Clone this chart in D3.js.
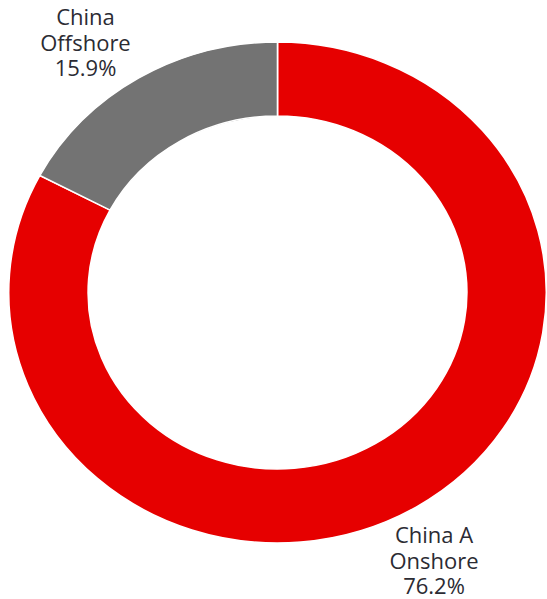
<!DOCTYPE html>
<html>
<head>
<meta charset="utf-8">
<script src="https://cdn.jsdelivr.net/npm/d3@7"></script>
<style>
  html, body { margin: 0; padding: 0; background: #ffffff; }
  svg { display: block; }
</style>
</head>
<body>
<svg id="chart" width="547" height="599"></svg>
<script>
const categories = ["China A Onshore", "China Offshore"];
const values = [76.2, 15.9];
const labelLines = [["China A", "Onshore", "76.2%"], ["China", "Offshore", "15.9%"]];
const colors = ["#E60000", "#737373"];

const svg = d3.select("#chart");
const cx = 277.5, cy = 292.5;
const rOuter = 250.5, rInner = 176.5;
const xStretch = 1.073;

const data = categories.map((c, i) => ({ name: c, value: values[i], lines: labelLines[i] }));
const pie = d3.pie().value(d => d.value).sort(null);
const arc = d3.arc().innerRadius(rInner).outerRadius(rOuter);
const color = d3.scaleOrdinal().domain(categories).range(colors);

const g = svg.append("g").attr("transform", `translate(${cx},${cy}) scale(${xStretch},1)`);
g.selectAll("path")
  .data(pie(data))
  .join("path")
  .attr("d", arc)
  .attr("fill", d => color(d.data.name))
  .attr("stroke", "#ffffff")
  .attr("stroke-width", 1.5);

// label positions (center x, first baseline)
const labelPos = { "China A Onshore": [434, 543], "China Offshore": [85.5, 25] };
const lineH = 25.7;
data.forEach(d => {
  const [lx, ly] = labelPos[d.name];
  const t = svg.append("text")
    .attr("x", lx).attr("y", ly)
    .attr("text-anchor", "middle")
    .attr("font-family", "'Open Sans', 'Noto Sans', sans-serif")
    .attr("font-size", 22)
    .attr("fill", "#2b2b33");
  d.lines.forEach((l, i) => {
    t.append("tspan").attr("x", lx).attr("y", ly + i * lineH).text(l);
  });
});
</script>
</body>
</html>
